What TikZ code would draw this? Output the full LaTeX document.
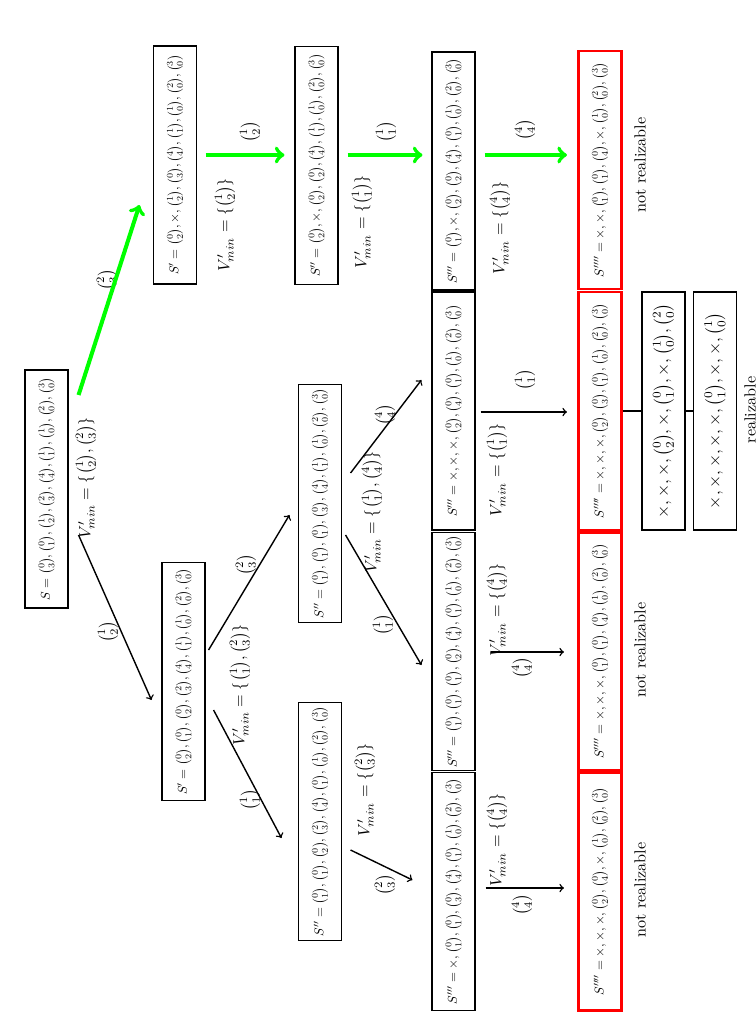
\documentclass[tikz,border=0pt]{standalone}
\usepackage{amsmath}
\begin{document}
\begin{tikzpicture}[x=0.02cm,y=-0.02cm]
    \tikzstyle{box} = [draw, thick, rectangle, rotate=90, scale=0.73, minimum width=6.52cm, minimum height=1.18cm, inner sep=1pt]
    \tikzstyle{bad} = [box, draw=red, line width=1.6pt]
    \tikzstyle{fine} = [box, scale=0.96/0.73, minimum width=4.96cm, minimum height=0.9cm]
    \tikzstyle{lbl} = [draw=none, fill=none, rotate=90, inner sep=1pt, scale=0.92]
    \tikzstyle{good} = [->, green, line width=2.3pt]
    \useasboundingbox (0,0) rectangle (755,1028);

    \node[box] (1) at (46.5,489) {$S=\binom{0}{3},\binom{0}{1},\binom{1}{2},\binom{2}{3},\binom{4}{4},\binom{1}{1},\binom{1}{0},\binom{2}{0},\binom{3}{0}$};
    \node[box] (2) at (175,165) {$S'=\binom{0}{2},\times,\binom{1}{2},\binom{0}{3},\binom{4}{4},\binom{1}{1},\binom{1}{0},\binom{2}{0},\binom{3}{0}$};
    \node[box] (3) at (183.5,681.5) {$S'=\binom{0}{2},\binom{0}{1},\binom{0}{2},\binom{2}{3},\binom{4}{4},\binom{1}{1},\binom{1}{0},\binom{2}{0},\binom{3}{0}$};
    \node[box] (4) at (316.5,165.5) {$S''=\binom{0}{2},\times,\binom{0}{2},\binom{0}{2},\binom{4}{4},\binom{1}{1},\binom{1}{0},\binom{2}{0},\binom{3}{0}$};
    \node[box] (5) at (320,503.5) {$S''=\binom{0}{1},\binom{0}{1},\binom{0}{1},\binom{0}{3},\binom{4}{4},\binom{1}{1},\binom{1}{0},\binom{2}{0},\binom{3}{0}$};
    \node[box] (6) at (320,821.5) {$S''=\binom{0}{1},\binom{0}{1},\binom{0}{2},\binom{2}{3},\binom{4}{4},\binom{0}{1},\binom{1}{0},\binom{2}{0},\binom{3}{0}$};
    \node[box] (7) at (453.5,171) {$S'''=\binom{0}{1},\times,\binom{0}{2},\binom{0}{2},\binom{4}{4},\binom{0}{1},\binom{1}{0},\binom{2}{0},\binom{3}{0}$};
    \node[box] (8) at (453.5,411) {$S'''=\times,\times,\times,\binom{0}{2},\binom{0}{4},\binom{0}{1},\binom{1}{0},\binom{2}{0},\binom{3}{0}$};
    \node[box] (9) at (453.5,651.5) {$S'''=\binom{0}{1},\binom{0}{1},\binom{0}{1},\binom{0}{2},\binom{4}{4},\binom{0}{1},\binom{1}{0},\binom{2}{0},\binom{3}{0}$};
    \node[box] (10) at (453.5,891.5) {$S'''=\times,\binom{0}{1},\binom{0}{1},\binom{0}{3},\binom{4}{4},\binom{0}{1},\binom{1}{0},\binom{2}{0},\binom{3}{0}$};
    \node[bad] (11) at (600,170) {$S''''=\times,\times,\binom{0}{1},\binom{0}{1},\binom{0}{4},\times,\binom{1}{0},\binom{2}{0},\binom{3}{0}$};
    \node[bad] (12) at (600,411) {$S''''=\times,\times,\times,\binom{0}{2},\binom{0}{3},\binom{0}{1},\binom{1}{0},\binom{2}{0},\binom{3}{0}$};
    \node[bad] (13) at (600,651.5) {$S''''=\times,\times,\times,\binom{0}{1},\binom{0}{1},\binom{0}{4},\binom{1}{0},\binom{2}{0},\binom{3}{0}$};
    \node[bad] (14) at (600,891.5) {$S''''=\times,\times,\times,\binom{0}{2},\binom{0}{4},\times,\binom{1}{0},\binom{2}{0},\binom{3}{0}$};
    \node[fine] (15) at (663.5,411) {$\times,\times,\times,\binom{0}{2},\times,\binom{0}{1},\times,\binom{1}{0},\binom{2}{0}$};
    \node[fine] (16) at (715,411) {$\times,\times,\times,\times,\times,\binom{0}{1},\times,\times,\binom{1}{0}$};

    \node[lbl] (v1) at (86,478) {$V'_{min}=\{\binom{1}{2},\binom{2}{3}\}$};
    \node[lbl] (e1) at (108,632) {$\binom{1}{2}$};
    \node[lbl] (e2) at (107,280) {$\binom{2}{3}$};
    \node[lbl] (v2) at (225,225) {$V'_{min}=\{\binom{1}{2}\}$};
    \node[lbl] (e3) at (250,132) {$\binom{1}{2}$};
    \node[lbl] (v4) at (362,222) {$V'_{min}=\{\binom{1}{1}\}$};
    \node[lbl] (e4) at (386,132) {$\binom{1}{1}$};
    \node[lbl] (v7) at (500,228) {$V'_{min}=\{\binom{4}{4}\}$};
    \node[lbl] (e7) at (525,130) {$\binom{4}{4}$};
    \node[lbl] (v3) at (240,685) {$V'_{min}=\{\binom{1}{1},\binom{2}{3}\}$};
    \node[lbl] (e5) at (246,565) {$\binom{2}{3}$};
    \node[lbl] (e6) at (250,800) {$\binom{1}{1}$};
    \node[lbl] (v5) at (372,512) {$V'_{min}=\{\binom{1}{1},\binom{4}{4}\}$};
    \node[lbl] (e8) at (385,415) {$\binom{4}{4}$};
    \node[lbl] (e9) at (383,625) {$\binom{1}{1}$};
    \node[lbl] (v6) at (365,790) {$V'_{min}=\{\binom{2}{3}\}$};
    \node[lbl] (e10) at (385,885) {$\binom{2}{3}$};
    \node[lbl] (v8) at (497,470) {$V'_{min}=\{\binom{1}{1}\}$};
    \node[lbl] (e12) at (525,380) {$\binom{1}{1}$};
    \node[lbl] (v9) at (497,610) {$V'_{min}=\{\binom{4}{4}\}$};
    \node[lbl] (e13) at (522,668) {$\binom{4}{4}$};
    \node[lbl] (v10) at (497,840) {$V'_{min}=\{\binom{4}{4}\}$};
    \node[lbl] (e14) at (522,905) {$\binom{4}{4}$};
    \node[lbl] (n11) at (640,165) {not realizable};
    \node[lbl] (n13) at (640,650) {not realizable};
    \node[lbl] (n14) at (640,890) {not realizable};
    \node[lbl] (r) at (750,410) {realizable};

    \draw[->, thick] ([shift={(10,46)}]1.south) -- ([shift={(-10,18.5)}]3.north);
    \draw[good] ([shift={(10,-94)}]1.south) -- ([shift={(-13.5,40)}]2.north);
    \draw[good] ([shift={(8.5,-10)}]2.south) -- ([shift={(-10,-10.5)}]4.north);
    \draw[good] ([shift={(9,-10.5)}]4.south) -- ([shift={(-9,-16)}]7.north);
    \draw[good] ([shift={(9,-16)}]7.south) -- ([shift={(-10.5,-15)}]11.north);
    \draw[->, thick] ([shift={(3,-31.5)}]3.south) -- ([shift={(-8.5,11.5)}]5.north);
    \draw[->, thick] ([shift={(8,28.5)}]3.south) -- ([shift={(-16.5,16.5)}]6.north);
    \draw[->, thick] ([shift={(8.5,-30.5)}]5.south) -- ([shift={(-10,-31)}]8.north);
    \draw[->, thick] ([shift={(3.5,31.5)}]5.south) -- ([shift={(-10,13.5)}]9.north);
    \draw[->, thick] ([shift={(8.5,28.5)}]6.south) -- ([shift={(-19,-11.5)}]10.north);
    \draw[->, thick] ([shift={(5,1)}]8.south) -- ([shift={(-10.5,1)}]12.north);
    \draw[->, thick] ([shift={(15,0.5)}]9.south) -- ([shift={(-13.5,0.5)}]13.north);
    \draw[->, thick] ([shift={(10,-3.5)}]10.south) -- ([shift={(-13.5,-3.5)}]14.north);
    \draw[thick] (12.south) -- (15.north);
    \draw[thick] (15.south) -- (16.north);
\end{tikzpicture}
\end{document}
